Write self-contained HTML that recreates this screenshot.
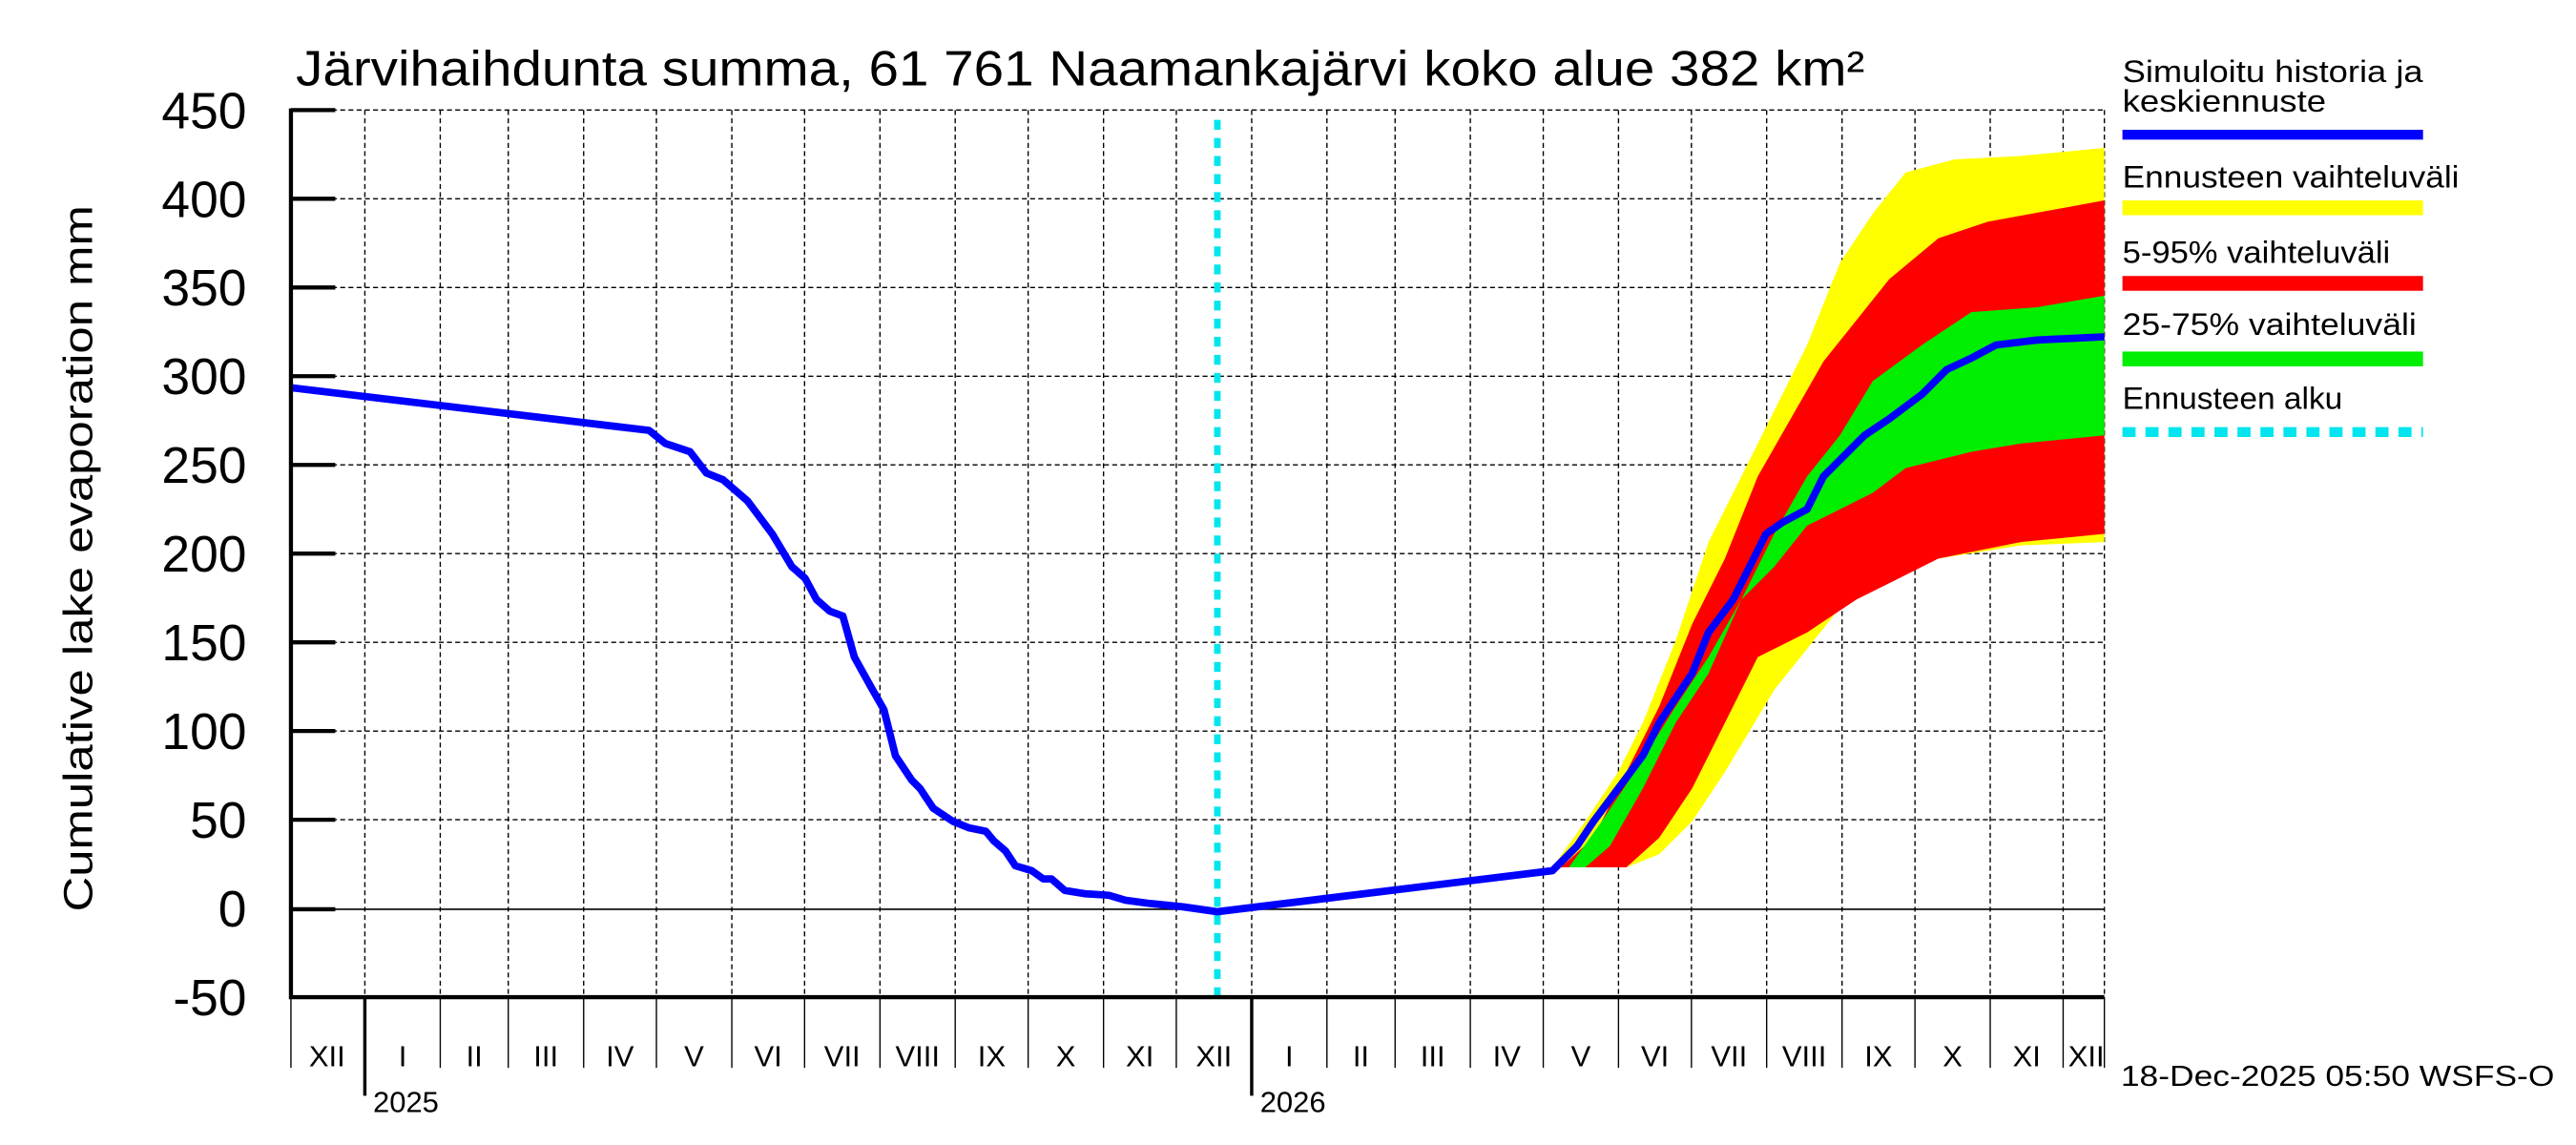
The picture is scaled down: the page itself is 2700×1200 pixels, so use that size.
<!DOCTYPE html>
<html><head><meta charset="utf-8"><style>html,body{margin:0;padding:0;background:#fff}svg{display:block}</style></head><body>
<svg xmlns="http://www.w3.org/2000/svg" width="2700" height="1200" viewBox="0 0 1568 697" font-family="Liberation Sans, sans-serif">
<rect width="1568" height="697" fill="#fff"/>
<g stroke="#000" stroke-width="0.8" stroke-dasharray="3,2" fill="none">
<path d="M177 67H1281M177 121H1281M177 175H1281M177 229H1281M177 283H1281M177 337H1281M177 391H1281M177 445H1281M177 499H1281"/>
<path d="M222 67V607M267.9 67V607M309.3 67V607M355.2 67V607M399.5 67V607M445.4 67V607M489.7 67V607M535.6 67V607M581.4 67V607M625.8 67V607M671.7 67V607M716 67V607M761.9 67V607M807.7 67V607M849.2 67V607M895 67V607M939.4 67V607M985.2 67V607M1029.6 67V607M1075.4 67V607M1121.3 67V607M1165.7 67V607M1211.5 67V607M1255.9 67V607M1281 67V607"/>
</g>
<path d="M177 553.5H1281" stroke="#000" stroke-width="1"/>
<polygon fill="#ffff00" points="945,528 965,500 985,470 1000,440 1020,390 1040,330 1060,290 1080,250 1100,210 1120,160 1140,130 1160,105 1190,97 1230,95 1281,90 1281,330 1230,332 1180,340 1150,350 1120,370 1080,420 1050,470 1030,500 1010,520 990,528"/>
<polygon fill="#ff0000" points="950,528 970,510 990,470 1010,430 1030,380 1050,340 1070,290 1090,255 1110,220 1130,195 1150,170 1180,145 1210,135 1281,122 1281,325 1230,330 1180,340 1150,355 1130,365 1100,385 1070,400 1050,440 1030,480 1010,510 990,528"/>
<polygon fill="#00ee00" points="955,528 975,500 995,470 1020,430 1040,400 1060,365 1080,325 1100,290 1120,265 1140,232 1170,210 1200,190 1240,187 1281,180 1281,265 1230,270 1200,275 1160,285 1140,300 1120,310 1100,320 1080,345 1060,365 1040,410 1020,440 1000,480 980,515 965,528"/>
<path d="M741 73V607" stroke="#00e5ee" stroke-width="4" stroke-dasharray="6,5"/>
<polyline fill="none" stroke="#0000ff" stroke-width="4.5" stroke-linejoin="round" points="177,236 395,262 405,270 420,275 430,288 440,292 455,305 470,325 482,345 490,352 497,365 505,372 513,375 520,400 530,418 538,432 545,460 555,475 560,480 568,492 580,500 590,504 600,506 605,512 612,518 618,527 628,530 635,535 640,535 648,542 660,544 675,545 685,548 700,550 720,552 741,555 945,530 960,515 970,500 985,480 1000,460 1010,440 1030,410 1040,385 1055,365 1065,345 1075,325 1085,318 1100,310 1110,290 1120,280 1135,265 1150,255 1170,240 1185,225 1200,218 1215,210 1240,207 1281,205"/>
<path d="M177 66V607H1281" stroke="#000" stroke-width="2.5" fill="none"/>
<g stroke="#000" stroke-width="2.5"><path d="M177 67H204M177 121H204M177 175H204M177 229H204M177 283H204M177 337H204M177 391H204M177 445H204M177 499H204M177 553.5H204"/></g>
<g stroke="#000" stroke-width="0.8"><path d="M177 607V650M267.9 607V650M309.3 607V650M355.2 607V650M399.5 607V650M445.4 607V650M489.7 607V650M535.6 607V650M581.4 607V650M625.8 607V650M671.7 607V650M716 607V650M807.7 607V650M849.2 607V650M895 607V650M939.4 607V650M985.2 607V650M1029.6 607V650M1075.4 607V650M1121.3 607V650M1165.7 607V650M1211.5 607V650M1255.9 607V650M1281 607V650"/></g>
<g stroke="#000" stroke-width="2"><path d="M222 607V667M761.9 607V667"/></g>
<g font-size="31" text-anchor="end" fill="#000">
<text x="150" y="78">450</text><text x="150" y="132">400</text><text x="150" y="186">350</text><text x="150" y="240">300</text><text x="150" y="294">250</text><text x="150" y="348">200</text><text x="150" y="402">150</text><text x="150" y="456">100</text><text x="150" y="510">50</text><text x="150" y="564">0</text><text x="150" y="618">-50</text>
</g>
<text x="180" y="52" font-size="30" textLength="955" lengthAdjust="spacingAndGlyphs">Järvihaihdunta summa, 61 761 Naamankajärvi koko alue 382 km²</text>
<text transform="translate(56,340) rotate(-90)" font-size="25" text-anchor="middle" textLength="430" lengthAdjust="spacingAndGlyphs">Cumulative lake evaporation   mm</text>
<g font-size="18" text-anchor="middle">
<text x="199" y="649">XII</text><text x="245" y="649">I</text><text x="288.6" y="649">II</text><text x="332.2" y="649">III</text><text x="377.3" y="649">IV</text><text x="422.4" y="649">V</text><text x="467.5" y="649">VI</text><text x="512.6" y="649">VII</text><text x="558.5" y="649">VIII</text><text x="603.6" y="649">IX</text><text x="648.7" y="649">X</text><text x="693.8" y="649">XI</text><text x="738.9" y="649">XII</text><text x="784.8" y="649">I</text><text x="828.4" y="649">II</text><text x="872.1" y="649">III</text><text x="917.2" y="649">IV</text><text x="962.3" y="649">V</text><text x="1007.4" y="649">VI</text><text x="1052.5" y="649">VII</text><text x="1098.3" y="649">VIII</text><text x="1143.5" y="649">IX</text><text x="1188.6" y="649">X</text><text x="1233.7" y="649">XI</text><text x="1270" y="649">XII</text>
<text x="247" y="677">2025</text><text x="787" y="677">2026</text>
</g>
<text x="1291" y="661" font-size="18" textLength="264" lengthAdjust="spacingAndGlyphs">18-Dec-2025 05:50 WSFS-O</text>
<g font-size="19">
<text x="1292" y="50" textLength="183" lengthAdjust="spacingAndGlyphs">Simuloitu historia ja</text><text x="1292" y="68" textLength="124" lengthAdjust="spacingAndGlyphs">keskiennuste</text>
<text x="1292" y="114" textLength="205" lengthAdjust="spacingAndGlyphs">Ennusteen vaihteluväli</text>
<text x="1292" y="160" textLength="163" lengthAdjust="spacingAndGlyphs">5-95% vaihteluväli</text>
<text x="1292" y="204" textLength="179" lengthAdjust="spacingAndGlyphs">25-75% vaihteluväli</text>
<text x="1292" y="249" textLength="134" lengthAdjust="spacingAndGlyphs">Ennusteen alku</text>
</g>
<rect x="1292" y="79" width="183" height="6" fill="#0000ff"/>
<rect x="1292" y="122" width="183" height="9" fill="#ffff00"/>
<rect x="1292" y="168" width="183" height="9" fill="#ff0000"/>
<rect x="1292" y="214" width="183" height="9" fill="#00ee00"/>
<path d="M1292 263H1475" stroke="#00e5ee" stroke-width="6" stroke-dasharray="8,6"/>
</svg>
</body></html>
